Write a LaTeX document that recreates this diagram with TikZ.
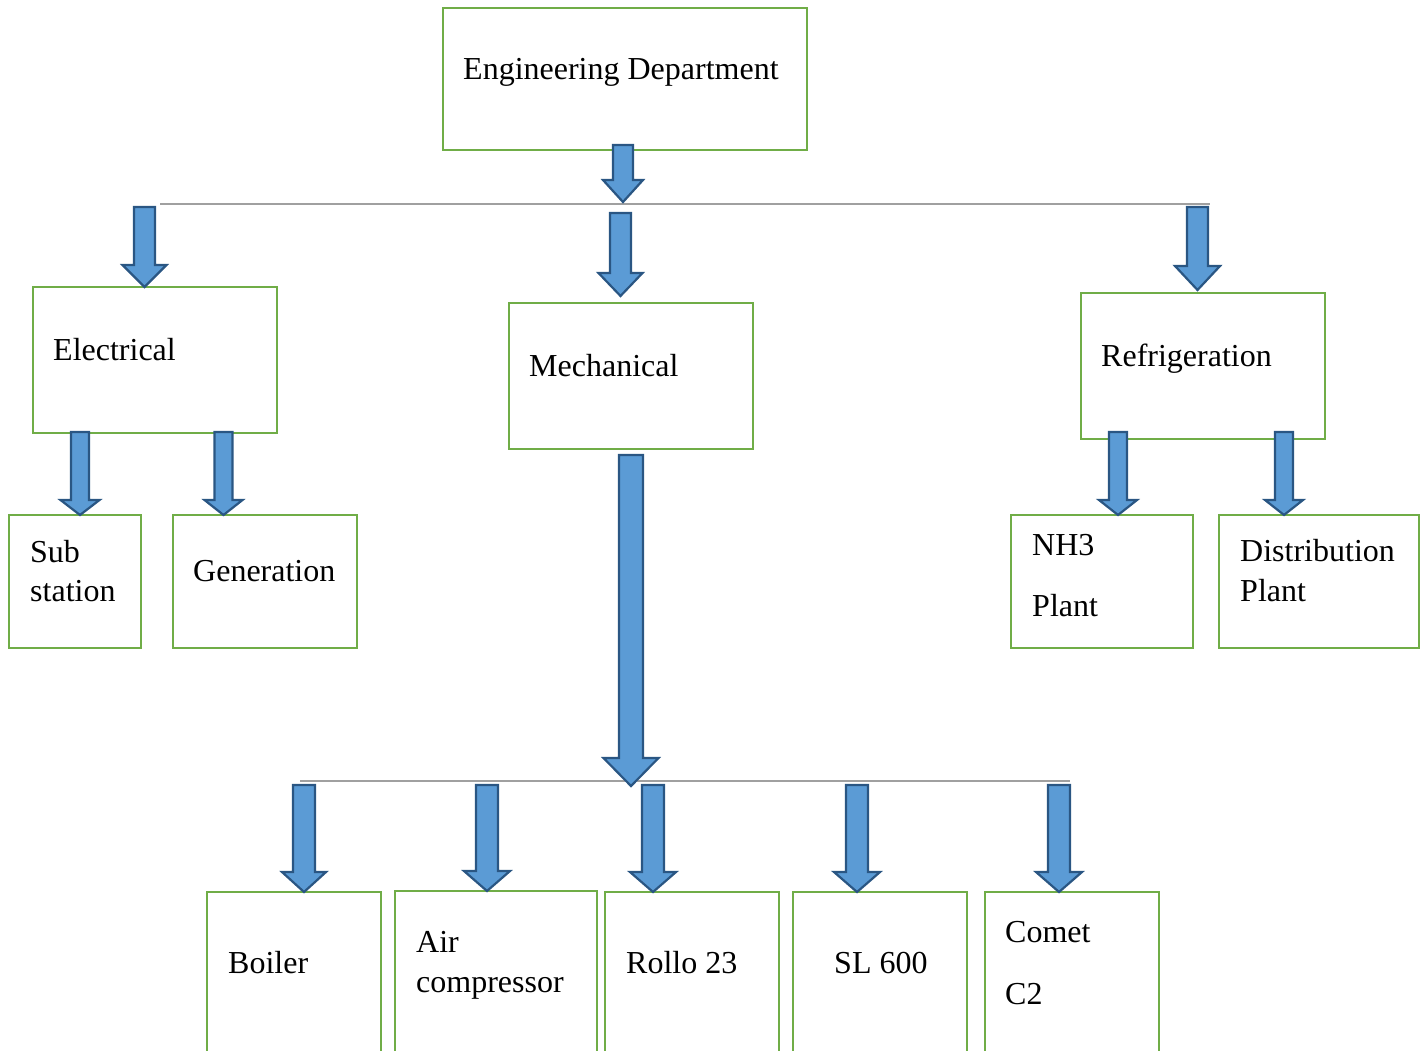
\documentclass[tikz,border=0pt]{standalone}
\usepackage{fontspec}
\setmainfont{Liberation Serif}
\definecolor{boxgreen}{HTML}{70AD47}
\definecolor{arrfill}{HTML}{5B9BD5}
\definecolor{arrline}{HTML}{2A5683}
\definecolor{linegray}{HTML}{A0A0A0}
\tikzset{
  box/.style={draw=boxgreen, line width=2pt, fill=white, outer sep=0pt},
  arrowstyle/.style={draw=arrline, fill=arrfill, line width=2.2pt, line join=miter},
  txt/.style={anchor=base west, inner sep=0pt, font=\fontsize{32}{38}\selectfont},
  sep/.style={draw=linegray, line width=1.2pt}
}
% #1 centre x, #2 top y, #3 tip y, #4 shaft half width, #5 head half width, #6 head length
\newcommand\blockarrow[6]{%
  \draw[arrowstyle] ({#1-#4},#2) -- ({#1+#4},#2) -- ({#1+#4},{#3-#6}) -- ({#1+#5},{#3-#6})
    -- (#1,#3) -- ({#1-#5},{#3-#6}) -- ({#1-#4},{#3-#6}) -- cycle;}
\begin{document}
\begin{tikzpicture}[x=1pt,y=-1pt]
\useasboundingbox (0,0) rectangle (1426,1051);
\clip (0,0) rectangle (1426,1051);
% separator lines
\coordinate (l1a) at (160,204); \coordinate (l1b) at (1210,204);
\coordinate (l2a) at (300,781); \coordinate (l2b) at (1070,781);
\draw[sep] (l1a) -- (l1b);
\draw[sep] (l2a) -- (l2b);
% boxes
\node[box, minimum width=364pt, minimum height=142pt, anchor=north west] (eng) at (443,8) {};
\node[box, minimum width=244pt, minimum height=146pt, anchor=north west] (ele) at (33,287) {};
\node[box, minimum width=244pt, minimum height=146pt, anchor=north west] (mec) at (509,303) {};
\node[box, minimum width=244pt, minimum height=146pt, anchor=north west] (ref) at (1081,293) {};
\node[box, minimum width=132pt, minimum height=133pt, anchor=north west] (sub) at (9,515) {};
\node[box, minimum width=184pt, minimum height=133pt, anchor=north west] (gen) at (173,515) {};
\node[box, minimum width=182pt, minimum height=133pt, anchor=north west] (nh3) at (1011,515) {};
\node[box, minimum width=200pt, minimum height=133pt, anchor=north west] (dis) at (1219,515) {};
\node[box, minimum width=174pt, minimum height=200pt, anchor=north west] (boi) at (207,892) {};
\node[box, minimum width=202pt, minimum height=200pt, anchor=north west] (air) at (395,891) {};
\node[box, minimum width=174pt, minimum height=200pt, anchor=north west] (rol) at (605,892) {};
\node[box, minimum width=174pt, minimum height=200pt, anchor=north west] (sl) at (793,892) {};
\node[box, minimum width=174pt, minimum height=200pt, anchor=north west] (com) at (985,892) {};
% texts
\node[txt] (t-eng) at (463,80) {Engineering Department};
\node[txt] (t-ele) at (53,360) {Electrical};
\node[txt] (t-mec) at (529,376) {Mechanical};
\node[txt] (t-ref) at (1101,366) {Refrigeration};
\node[txt] (t-sub1) at (30,562) {Sub};
\node[txt] (t-sub2) at (30,601) {station};
\node[txt] (t-gen) at (193,581) {Generation};
\node[txt] (t-nh1) at (1032,555) {NH3};
\node[txt] (t-nh2) at (1032,616) {Plant};
\node[txt] (t-dis1) at (1240,561) {Distribution};
\node[txt] (t-dis2) at (1240,601) {Plant};
\node[txt] (t-boi) at (228,973) {Boiler};
\node[txt] (t-air1) at (416,952) {Air};
\node[txt] (t-air2) at (416,992) {compressor};
\node[txt] (t-rol) at (626,973) {Rollo 23};
\node[txt] (t-sl) at (834,973) {SL 600};
\node[txt] (t-com1) at (1005,942) {Comet};
\node[txt] (t-com2) at (1005,1004) {C2};
% arrows
\blockarrow{623}{145}{202}{10}{20}{22}
\blockarrow{144.5}{207}{287}{10.5}{22}{22}
\blockarrow{620.5}{213}{296}{10.5}{22}{23}
\blockarrow{1197.5}{207}{290}{10.5}{22.5}{24}
\blockarrow{80}{432}{515}{9}{19.5}{15}
\blockarrow{223.5}{432}{515}{9}{19}{15}
\blockarrow{1118}{432}{515}{9}{19}{15}
\blockarrow{1284}{432}{515}{9}{19}{15}
\blockarrow{631}{455}{786}{12}{27.5}{28}
\blockarrow{304}{785}{892}{11}{22}{20}
\blockarrow{487}{785}{891}{11}{23}{20}
\blockarrow{653}{785}{892}{11}{23}{20}
\blockarrow{857}{785}{892}{11}{23}{20}
\blockarrow{1059}{785}{892}{11}{23}{20}
\end{tikzpicture}
\end{document}
